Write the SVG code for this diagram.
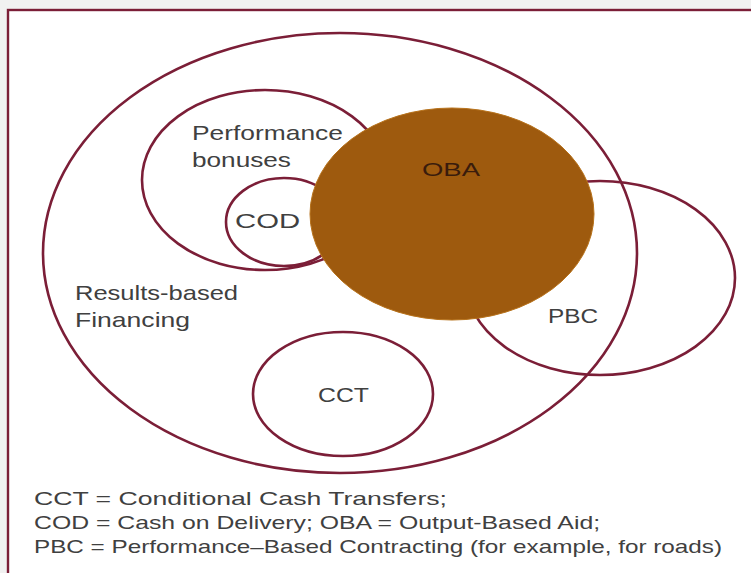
<svg xmlns="http://www.w3.org/2000/svg" width="751" height="573" viewBox="0 0 751 573">
  <style>
    .ring { fill: none; stroke: #7b1e37; stroke-width: 2.6; }
    .lbl { font-family: "Liberation Sans", Arial, sans-serif; fill: #404040; }
  </style>
  <!-- page background and framed panel -->
  <rect x="0" y="0" width="751" height="573" fill="#f1f1f1"/>
  <rect x="8" y="10" width="760" height="580" fill="#ffffff" stroke="#7b1e37" stroke-width="2.4"/>

  <!-- labels are drawn with a 1.33 horizontal stretch -->
  <g id="rbf">
    <ellipse class="ring" cx="340" cy="253" rx="297" ry="220"/>
    <text class="lbl" transform="translate(75 300) scale(1.33 1)" font-size="20" textLength="122.6" lengthAdjust="spacingAndGlyphs">Results-based</text>
    <text class="lbl" transform="translate(75 327) scale(1.33 1)" font-size="20" textLength="86.5" lengthAdjust="spacingAndGlyphs">Financing</text>
  </g>

  <g id="performance-bonuses">
    <ellipse class="ring" cx="265" cy="180" rx="123" ry="90"/>
    <text class="lbl" transform="translate(192 140) scale(1.33 1)" font-size="20" textLength="113.5" lengthAdjust="spacingAndGlyphs">Performance</text>
    <text class="lbl" transform="translate(192 167) scale(1.33 1)" font-size="20" textLength="74.4" lengthAdjust="spacingAndGlyphs">bonuses</text>
  </g>

  <g id="cod">
    <ellipse class="ring" cx="284" cy="222" rx="58" ry="44"/>
    <text class="lbl" transform="translate(235 228) scale(1.33 1)" font-size="21" textLength="48.9" lengthAdjust="spacingAndGlyphs">COD</text>
  </g>

  <g id="pbc">
    <ellipse class="ring" cx="600" cy="278" rx="135" ry="97"/>
    <text class="lbl" transform="translate(548 323) scale(1.33 1)" font-size="21" textLength="37.6" lengthAdjust="spacingAndGlyphs">PBC</text>
  </g>

  <g id="oba">
    <ellipse cx="452" cy="214" rx="142" ry="106" fill="#9e5a0e" stroke="#b8731c" stroke-width="1"/>
    <text transform="translate(422 176) scale(1.33 1)" font-size="18" textLength="43.6" lengthAdjust="spacingAndGlyphs" font-family="Liberation Sans, Arial, sans-serif" fill="#3a1c0c">OBA</text>
  </g>

  <g id="cct">
    <ellipse class="ring" cx="343" cy="394" rx="90" ry="62"/>
    <text class="lbl" transform="translate(318 402) scale(1.33 1)" font-size="21" textLength="38.3" lengthAdjust="spacingAndGlyphs">CCT</text>
  </g>

  <g id="legend">
    <text class="lbl" transform="translate(34 505) scale(1.33 1)" font-size="18" textLength="310.5" lengthAdjust="spacingAndGlyphs">CCT = Conditional Cash Transfers;</text>
    <text class="lbl" transform="translate(34 529) scale(1.33 1)" font-size="18" textLength="425.6" lengthAdjust="spacingAndGlyphs">COD = Cash on Delivery; OBA = Output-Based Aid;</text>
    <text class="lbl" transform="translate(34 553) scale(1.33 1)" font-size="18" textLength="517.3" lengthAdjust="spacingAndGlyphs">PBC = Performance–Based Contracting (for example, for roads)</text>
  </g>
</svg>
